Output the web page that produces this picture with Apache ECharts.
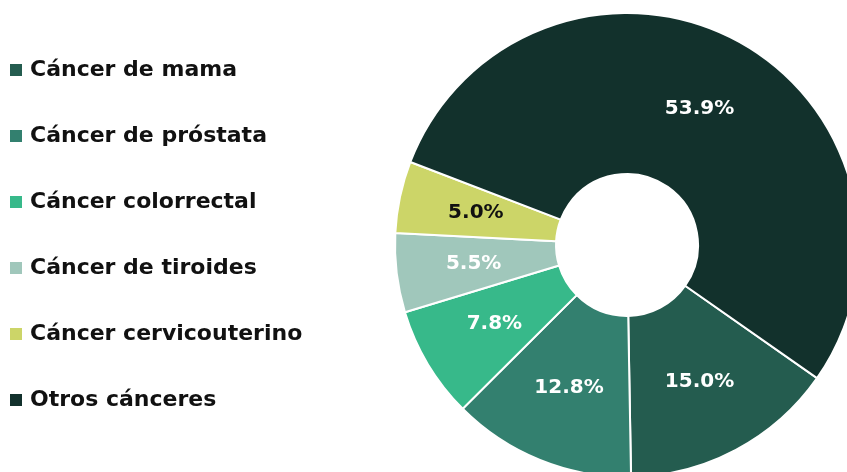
<html>
<head>
<meta charset="utf-8">
<script src="https://cdn.jsdelivr.net/npm/echarts@6/dist/echarts.min.js"></script>
<style>
  html, body { margin: 0; padding: 0; background: #fff; }
  #main { width: 847px; height: 472px; }
</style>
</head>
<body>
<div id="main"></div>
<script>
var categories = ['Cáncer de mama', 'Cáncer de próstata', 'Cáncer colorrectal', 'Cáncer de tiroides', 'Cáncer cervicouterino', 'Otros cánceres'];
var values = [15.0, 12.8, 7.8, 5.5, 5.0, 53.9];
var colors = ['#245c4f', '#33806f', '#37b98a', '#a0c7bb', '#ccd568', '#12312c'];
var labelColors = ['#fff', '#fff', '#fff', '#fff', '#111', '#fff'];

var myChart = echarts.init(document.getElementById('main'));
var option = {
  color: colors,
  legend: {
    orient: 'vertical',
    left: 3,
    top: 54,
    itemGap: 44,
    itemWidth: 14,
    itemHeight: 14,
    icon: 'rect',
    textStyle: { fontFamily: 'DejaVu Sans', fontWeight: 'bold', fontSize: 22, lineHeight: 22, color: '#111', padding: [0, 0, 0, 2] },
    data: categories
  },
  series: [{
    type: 'pie',
    center: [627, 245],
    radius: [71, 232],
    startAngle: -35,
    clockwise: true,
    itemStyle: { borderColor: '#fff', borderWidth: 2 },
    label: {
      position: 'inside',
      fontFamily: 'DejaVu Sans',
      fontWeight: 'bold',
      fontSize: 20,
      formatter: function (p) { return p.value.toFixed(1) + '%'; }
    },
    labelLine: { show: false },
    data: categories.map(function (c, i) {
      return { name: c, value: values[i], label: { color: labelColors[i] } };
    })
  }]
};
myChart.setOption(option);
</script>
</body>
</html>
